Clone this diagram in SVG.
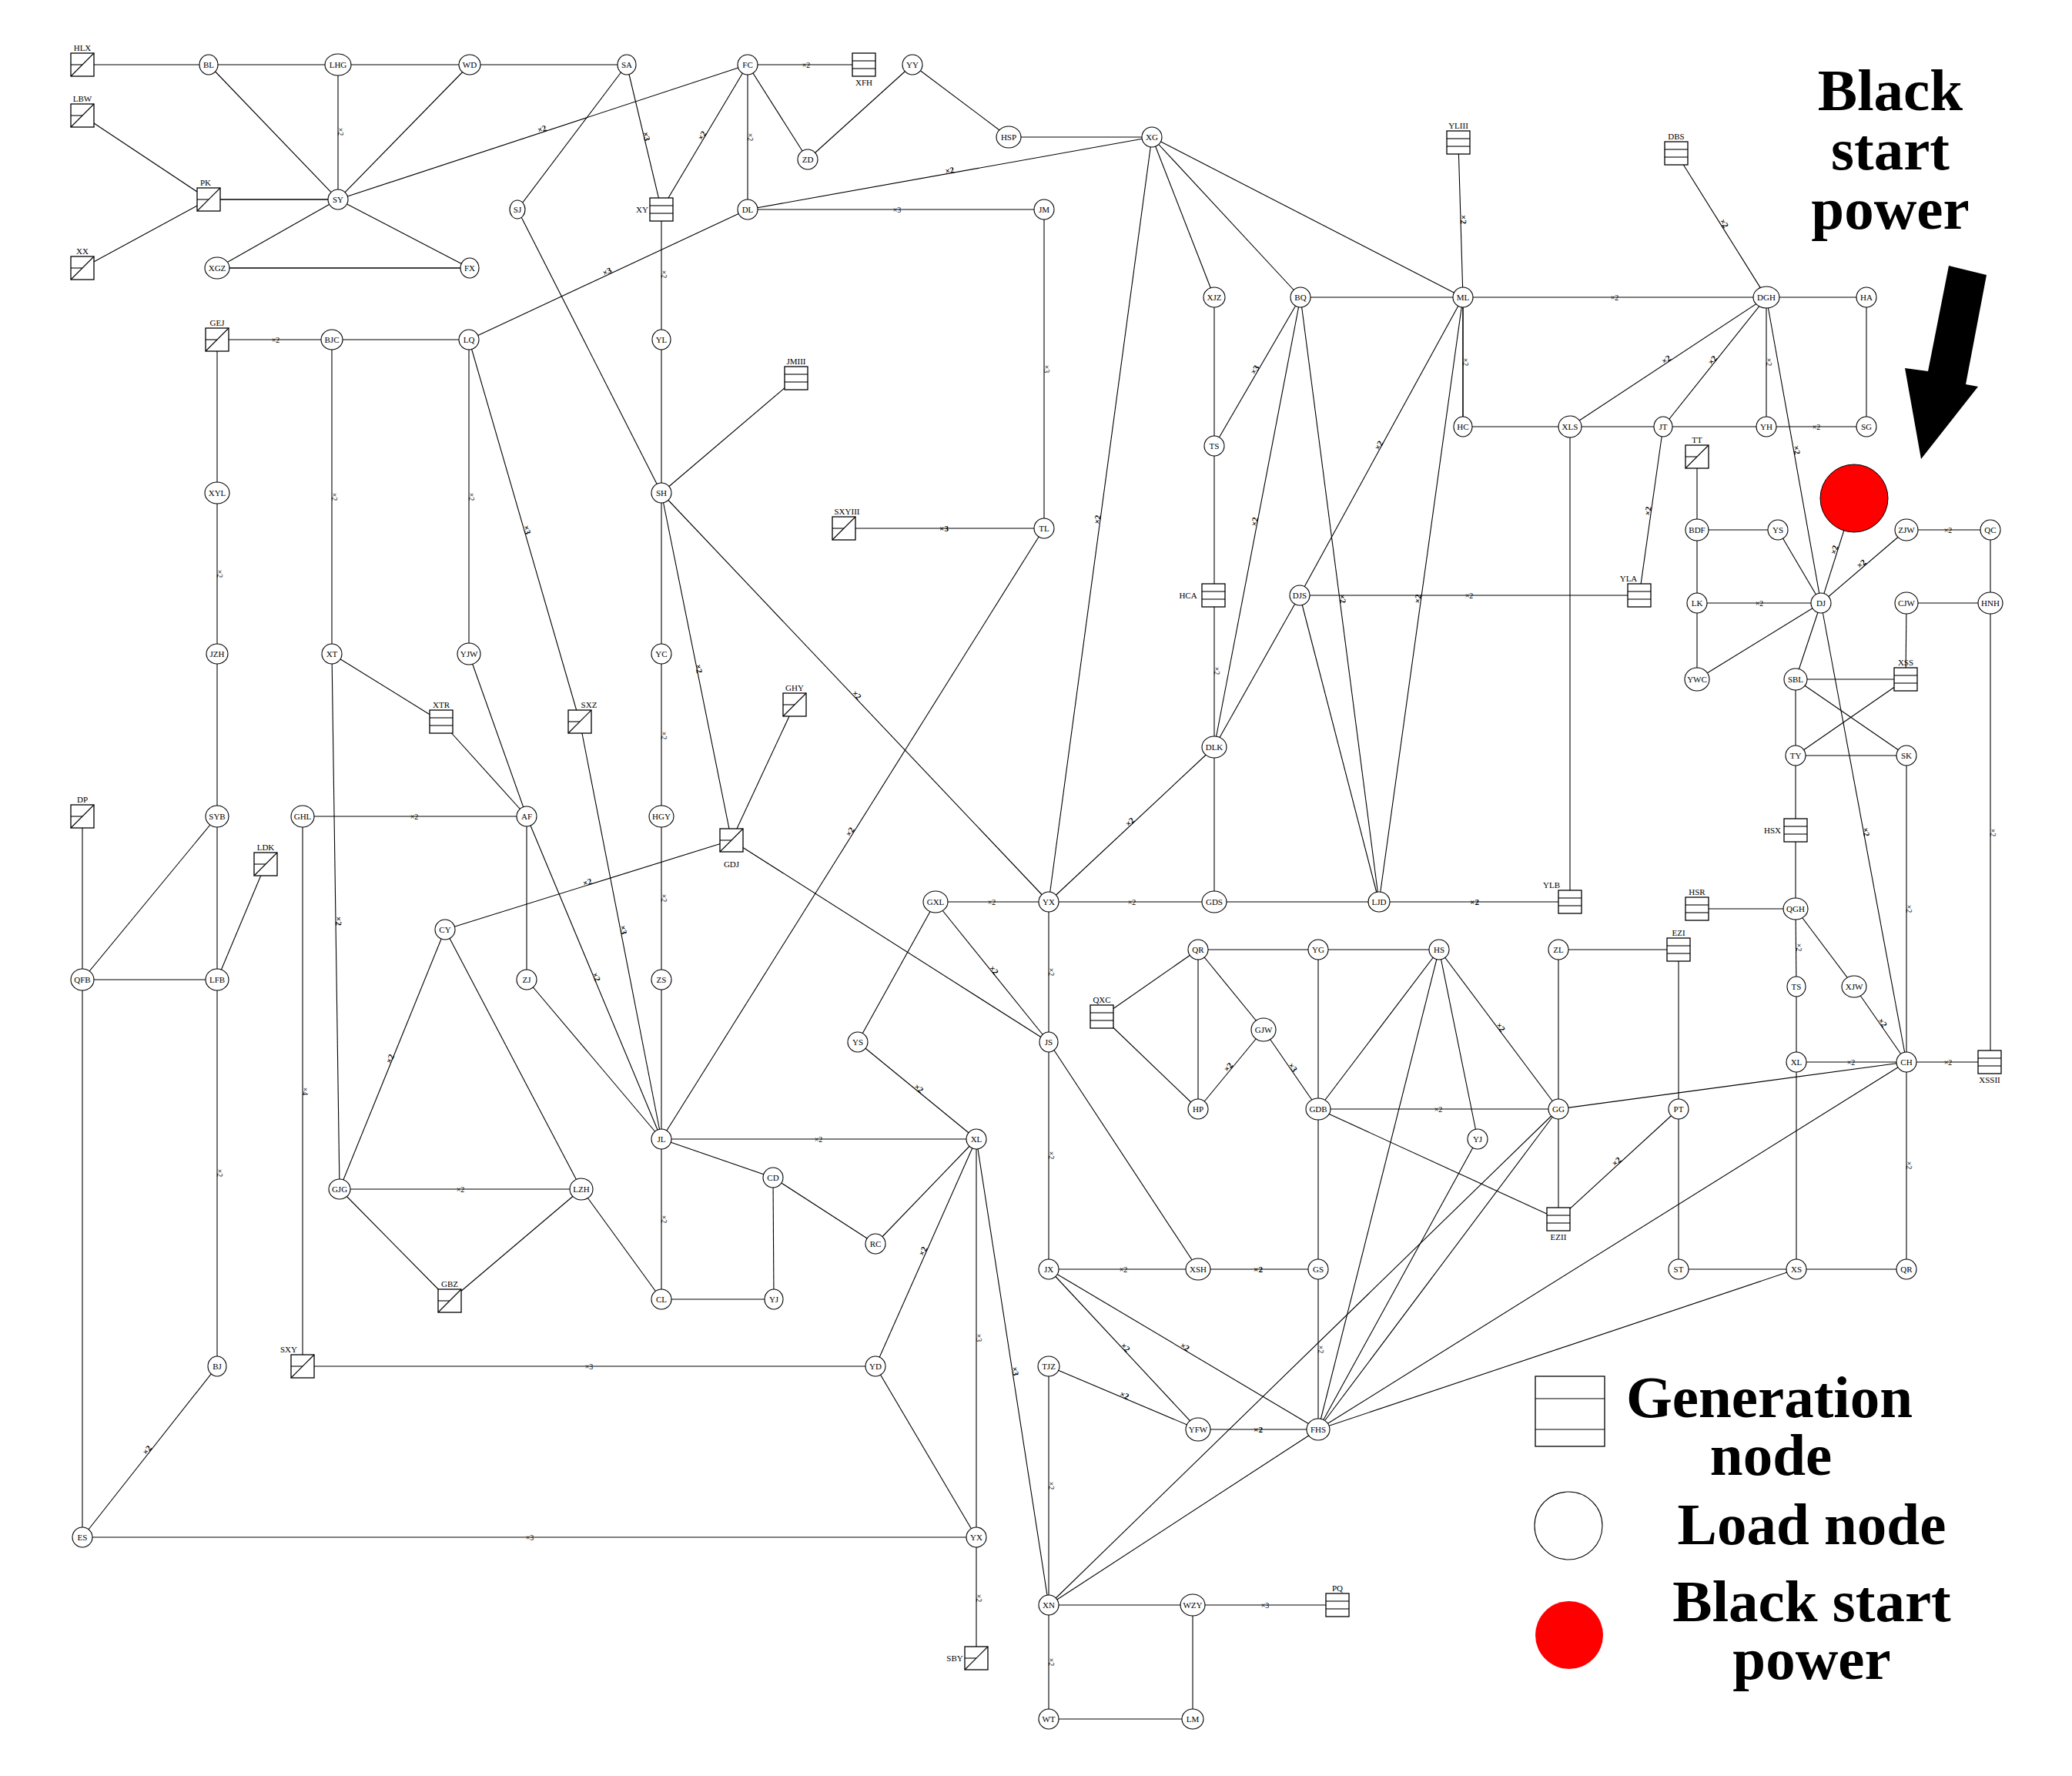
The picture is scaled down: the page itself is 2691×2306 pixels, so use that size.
<svg xmlns="http://www.w3.org/2000/svg" width="2691" height="2306" viewBox="0 0 2691 2306">
<style>
line{stroke:#000;stroke-width:1.1}
.n{fill:#fff;stroke:#000;stroke-width:1.1}
.g{fill:#fff;stroke:#000;stroke-width:1.3}
text{font-family:"Liberation Serif","Times New Roman",serif;fill:#000}
.t{font-size:11px;text-anchor:middle}
.l{font-size:10px;text-anchor:middle}
.lb{font-size:11px;text-anchor:middle;font-weight:bold}
.big{font-size:77px;font-weight:bold;text-anchor:middle}
</style>
<rect width="2691" height="2306" fill="#fff"/>
<g id="connectors">
<line x1="107" y1="84" x2="271" y2="84"/><line x1="271" y1="84" x2="439" y2="84"/><line x1="439" y1="84" x2="610" y2="84"/><line x1="610" y1="84" x2="814" y2="84"/>
<line x1="271" y1="84" x2="439" y2="259"/><line x1="439" y1="84" x2="439" y2="259"/><line x1="610" y1="84" x2="439" y2="259"/>
<line x1="107" y1="150" x2="271" y2="259"/><line x1="107" y1="348" x2="271" y2="259"/><line x1="271" y1="259" x2="439" y2="259" style="stroke-width:1.6"/>
<line x1="439" y1="259" x2="282" y2="348"/><line x1="439" y1="259" x2="610" y2="348"/><line x1="282" y1="348" x2="610" y2="348" style="stroke-width:1.6"/>
<line x1="439" y1="259" x2="971" y2="84"/><line x1="814" y1="84" x2="672" y2="272"/><line x1="814" y1="84" x2="859" y2="272"/><line x1="971" y1="84" x2="859" y2="272"/>
<line x1="971" y1="84" x2="1122" y2="84"/><line x1="971" y1="84" x2="1049" y2="207"/><line x1="971" y1="84" x2="971" y2="272"/>
<line x1="1049" y1="207" x2="1185" y2="84"/><line x1="1185" y1="84" x2="1310" y2="178"/><line x1="1310" y1="178" x2="1496" y2="178"/>
<line x1="971" y1="272" x2="1496" y2="178"/><line x1="971" y1="272" x2="1356" y2="272"/><line x1="971" y1="272" x2="609" y2="441"/>
<line x1="859" y1="272" x2="859" y2="441"/><line x1="672" y1="272" x2="859" y2="640"/><line x1="859" y1="441" x2="859" y2="640"/><line x1="859" y1="640" x2="1034" y2="491"/>
<line x1="282" y1="441" x2="431" y2="441"/><line x1="431" y1="441" x2="609" y2="441"/><line x1="282" y1="441" x2="282" y2="640"/><line x1="282" y1="640" x2="282" y2="849"/><line x1="282" y1="849" x2="282" y2="1060"/>
<line x1="431" y1="441" x2="431" y2="849"/><line x1="609" y1="441" x2="609" y2="849"/><line x1="609" y1="441" x2="753" y2="937"/>
<line x1="859" y1="640" x2="859" y2="849"/><line x1="859" y1="640" x2="950" y2="1091"/><line x1="859" y1="640" x2="1362" y2="1171"/>
<line x1="1096" y1="686" x2="1356" y2="686"/><line x1="1356" y1="272" x2="1356" y2="686"/><line x1="1356" y1="686" x2="859" y2="1479"/>
<line x1="431" y1="849" x2="573" y2="937"/><line x1="573" y1="937" x2="684" y2="1060"/><line x1="609" y1="849" x2="684" y2="1060"/><line x1="753" y1="937" x2="859" y2="1479"/>
<line x1="859" y1="849" x2="859" y2="1060"/><line x1="1032" y1="915" x2="950" y2="1091"/><line x1="950" y1="1091" x2="1362" y2="1353"/><line x1="950" y1="1091" x2="578" y2="1207"/>
<line x1="107" y1="1060" x2="107" y2="1272"/><line x1="282" y1="1060" x2="107" y2="1272"/><line x1="282" y1="1060" x2="282" y2="1272"/><line x1="345" y1="1122" x2="282" y2="1272"/><line x1="107" y1="1272" x2="282" y2="1272"/>
<line x1="393" y1="1060" x2="684" y2="1060"/><line x1="393" y1="1060" x2="393" y2="1774"/><line x1="431" y1="849" x2="441" y2="1544"/>
<line x1="684" y1="1060" x2="684" y2="1272"/><line x1="684" y1="1060" x2="859" y2="1479"/><line x1="859" y1="1060" x2="859" y2="1272"/><line x1="859" y1="1272" x2="859" y2="1479"/><line x1="684" y1="1272" x2="859" y2="1479"/>
<line x1="578" y1="1207" x2="441" y2="1544"/><line x1="578" y1="1207" x2="755" y2="1544"/><line x1="441" y1="1544" x2="755" y2="1544"/><line x1="441" y1="1544" x2="584" y2="1689"/><line x1="755" y1="1544" x2="584" y2="1689"/><line x1="755" y1="1544" x2="859" y2="1687"/>
<line x1="859" y1="1479" x2="859" y2="1687"/><line x1="859" y1="1479" x2="1268" y2="1479"/><line x1="859" y1="1479" x2="1004" y2="1529"/><line x1="1004" y1="1529" x2="1005" y2="1687"/><line x1="1004" y1="1529" x2="1137" y2="1615"/><line x1="859" y1="1687" x2="1005" y2="1687"/><line x1="1137" y1="1615" x2="1268" y2="1479"/>
<line x1="1114" y1="1353" x2="1268" y2="1479"/><line x1="1215" y1="1171" x2="1114" y2="1353"/><line x1="1215" y1="1171" x2="1362" y2="1353"/><line x1="1215" y1="1171" x2="1362" y2="1171"/>
<line x1="1268" y1="1479" x2="1137" y2="1774"/><line x1="1268" y1="1479" x2="1268" y2="1996"/><line x1="1268" y1="1479" x2="1362" y2="2084"/>
<line x1="393" y1="1774" x2="1137" y2="1774"/><line x1="1137" y1="1774" x2="1268" y2="1996"/><line x1="282" y1="1272" x2="282" y2="1774"/><line x1="282" y1="1774" x2="107" y2="1996"/><line x1="107" y1="1272" x2="107" y2="1996"/><line x1="107" y1="1996" x2="1268" y2="1996"/><line x1="1268" y1="1996" x2="1268" y2="2153"/>
<line x1="1496" y1="178" x2="1577" y2="386"/><line x1="1496" y1="178" x2="1689" y2="386"/><line x1="1496" y1="178" x2="1900" y2="386"/><line x1="1496" y1="178" x2="1362" y2="1171"/>
<line x1="1894" y1="185" x2="1900" y2="386"/><line x1="2177" y1="199" x2="2294" y2="386"/><line x1="1689" y1="386" x2="1900" y2="386"/><line x1="1900" y1="386" x2="2294" y2="386"/><line x1="2294" y1="386" x2="2424" y2="386"/><line x1="2424" y1="386" x2="2424" y2="554"/>
<line x1="2294" y1="386" x2="2039" y2="554"/><line x1="2294" y1="386" x2="2160" y2="554"/><line x1="2294" y1="386" x2="2294" y2="554"/><line x1="2294" y1="386" x2="2365" y2="783"/><line x1="2365" y1="783" x2="2476" y2="1379"/>
<line x1="1900" y1="386" x2="1900" y2="554" style="stroke-width:1.6"/><line x1="1900" y1="554" x2="2039" y2="554"/><line x1="2039" y1="554" x2="2160" y2="554"/><line x1="2160" y1="554" x2="2294" y2="554"/><line x1="2294" y1="554" x2="2424" y2="554"/>
<line x1="2039" y1="554" x2="2039" y2="1171"/><line x1="2160" y1="554" x2="2129" y2="773"/><line x1="1900" y1="386" x2="1688" y2="773"/><line x1="1900" y1="386" x2="1791" y2="1171"/>
<line x1="1689" y1="386" x2="1577" y2="579"/><line x1="1689" y1="386" x2="1577" y2="970"/><line x1="1689" y1="386" x2="1791" y2="1171"/>
<line x1="1577" y1="386" x2="1577" y2="579"/><line x1="1577" y1="579" x2="1577" y2="773"/><line x1="1577" y1="773" x2="1577" y2="970"/><line x1="1688" y1="773" x2="2129" y2="773"/><line x1="1688" y1="773" x2="1577" y2="970"/><line x1="1688" y1="773" x2="1791" y2="1171"/>
<line x1="1577" y1="970" x2="1362" y2="1171"/><line x1="1577" y1="970" x2="1577" y2="1171"/><line x1="1362" y1="1171" x2="1577" y2="1171"/><line x1="1577" y1="1171" x2="1791" y2="1171"/><line x1="1791" y1="1171" x2="2039" y2="1171"/>
<line x1="2204" y1="593" x2="2204" y2="688"/><line x1="2204" y1="688" x2="2309" y2="688"/><line x1="2204" y1="688" x2="2204" y2="783"/><line x1="2204" y1="783" x2="2365" y2="783"/><line x1="2204" y1="783" x2="2204" y2="882"/><line x1="2309" y1="688" x2="2365" y2="783"/>
<line x1="2365" y1="783" x2="2408" y2="647"/><line x1="2365" y1="783" x2="2476" y2="688"/><line x1="2476" y1="688" x2="2585" y2="688"/><line x1="2585" y1="688" x2="2585" y2="783"/><line x1="2476" y1="783" x2="2585" y2="783"/><line x1="2476" y1="783" x2="2475" y2="882"/>
<line x1="2365" y1="783" x2="2204" y2="882"/><line x1="2365" y1="783" x2="2332" y2="882"/><line x1="2332" y1="882" x2="2475" y2="882"/><line x1="2332" y1="882" x2="2476" y2="981"/><line x1="2332" y1="882" x2="2332" y2="981"/><line x1="2475" y1="882" x2="2332" y2="981"/><line x1="2332" y1="981" x2="2476" y2="981"/>
<line x1="2332" y1="981" x2="2332" y2="1078"/><line x1="2332" y1="1078" x2="2332" y2="1180"/><line x1="2204" y1="1180" x2="2332" y2="1180"/><line x1="2476" y1="981" x2="2476" y2="1379"/><line x1="2585" y1="783" x2="2585" y2="1379"/>
<line x1="2332" y1="1180" x2="2333" y2="1281"/><line x1="2332" y1="1180" x2="2408" y2="1281"/><line x1="2408" y1="1281" x2="2476" y2="1379"/><line x1="2333" y1="1281" x2="2333" y2="1379"/><line x1="2333" y1="1379" x2="2476" y2="1379"/><line x1="2476" y1="1379" x2="2584" y2="1379"/>
<line x1="2333" y1="1379" x2="2333" y2="1648"/><line x1="2476" y1="1379" x2="2476" y2="1648"/><line x1="2333" y1="1648" x2="2476" y2="1648"/><line x1="2180" y1="1648" x2="2333" y2="1648"/><line x1="2180" y1="1440" x2="2180" y2="1648"/><line x1="2180" y1="1233" x2="2180" y2="1440"/>
<line x1="2024" y1="1233" x2="2180" y2="1233"/><line x1="2024" y1="1233" x2="2024" y2="1440"/><line x1="2024" y1="1440" x2="2024" y2="1583"/><line x1="2180" y1="1440" x2="2024" y2="1583"/><line x1="2024" y1="1440" x2="2476" y2="1379"/><line x1="1712" y1="1440" x2="2024" y2="1583"/><line x1="1712" y1="1440" x2="2024" y2="1440"/>
<line x1="1869" y1="1233" x2="2024" y2="1440"/><line x1="1869" y1="1233" x2="1919" y2="1479"/><line x1="1869" y1="1233" x2="1712" y2="1440"/><line x1="1869" y1="1233" x2="1712" y2="1856"/><line x1="1712" y1="1233" x2="1712" y2="1440"/><line x1="1556" y1="1233" x2="1712" y2="1233"/><line x1="1712" y1="1233" x2="1869" y2="1233"/>
<line x1="1556" y1="1233" x2="1556" y2="1440"/><line x1="1556" y1="1233" x2="1641" y2="1337"/><line x1="1556" y1="1233" x2="1431" y2="1320"/><line x1="1431" y1="1320" x2="1556" y2="1440"/><line x1="1556" y1="1440" x2="1641" y2="1337"/><line x1="1641" y1="1337" x2="1712" y2="1440"/>
<line x1="1712" y1="1440" x2="1712" y2="1648"/><line x1="1712" y1="1648" x2="1712" y2="1856"/><line x1="1919" y1="1479" x2="1712" y2="1856"/><line x1="2024" y1="1440" x2="1712" y2="1856"/><line x1="2024" y1="1440" x2="1362" y2="2084"/><line x1="2476" y1="1379" x2="1712" y2="1856"/><line x1="2333" y1="1648" x2="1712" y2="1856"/><line x1="1712" y1="1856" x2="1362" y2="2084"/>
<line x1="1362" y1="1171" x2="1362" y2="1353"/><line x1="1362" y1="1353" x2="1362" y2="1648"/><line x1="1362" y1="1353" x2="1556" y2="1648"/><line x1="1362" y1="1648" x2="1556" y2="1648"/><line x1="1556" y1="1648" x2="1712" y2="1648"/>
<line x1="1362" y1="1648" x2="1556" y2="1856"/><line x1="1362" y1="1648" x2="1712" y2="1856"/><line x1="1362" y1="1774" x2="1556" y2="1856"/><line x1="1556" y1="1856" x2="1712" y2="1856"/><line x1="1362" y1="1774" x2="1362" y2="2084"/>
<line x1="1362" y1="2084" x2="1549" y2="2084"/><line x1="1549" y1="2084" x2="1737" y2="2084"/><line x1="1549" y1="2084" x2="1549" y2="2232"/><line x1="1362" y1="2084" x2="1362" y2="2232"/><line x1="1362" y1="2232" x2="1549" y2="2232"/>
</g>
<g id="edge-labels">
<text class="l" x="439" y="171" transform="rotate(90 439 171)">×2</text>
<text class="lb" x="705" y="171" transform="rotate(-18 705 171)">×2</text>
<text class="lb" x="836" y="178" transform="rotate(76 836 178)">×3</text>
<text class="lb" x="915" y="178" transform="rotate(-59 915 178)">×2</text>
<text class="l" x="1047" y="88">×2</text>
<text class="l" x="971" y="178" transform="rotate(90 971 178)">×2</text>
<text class="lb" x="1234" y="225" transform="rotate(-10 1234 225)">×2</text>
<text class="l" x="1165" y="276">×3</text>
<text class="lb" x="790" y="356" transform="rotate(-25 790 356)">×3</text>
<text class="l" x="859" y="356" transform="rotate(90 859 356)">×2</text>
<text class="l" x="358" y="445">×2</text>
<text class="l" x="431" y="645" transform="rotate(90 431 645)">×2</text>
<text class="l" x="609" y="645" transform="rotate(90 609 645)">×2</text>
<text class="lb" x="681" y="689" transform="rotate(74 681 689)">×3</text>
<text class="l" x="282" y="745" transform="rotate(90 282 745)">×2</text>
<text class="lb" x="904" y="869" transform="rotate(79 904 869)">×2</text>
<text class="lb" x="1110" y="905" transform="rotate(46 1110 905)">×2</text>
<text class="lb" x="1226" y="690">×3</text>
<text class="l" x="1356" y="479" transform="rotate(90 1356 479)">×3</text>
<text class="lb" x="1107" y="1082" transform="rotate(-58 1107 1082)">×2</text>
<text class="l" x="859" y="955" transform="rotate(90 859 955)">×2</text>
<text class="l" x="538" y="1064">×2</text>
<text class="lb" x="764" y="1149" transform="rotate(-17 764 1149)">×2</text>
<text class="l" x="393" y="1417" transform="rotate(90 393 1417)">×4</text>
<text class="lb" x="436" y="1196" transform="rotate(89 436 1196)">×2</text>
<text class="lb" x="771" y="1270" transform="rotate(67 771 1270)">×2</text>
<text class="lb" x="806" y="1208" transform="rotate(79 806 1208)">×3</text>
<text class="l" x="859" y="1166" transform="rotate(90 859 1166)">×2</text>
<text class="lb" x="510" y="1376" transform="rotate(-68 510 1376)">×2</text>
<text class="l" x="598" y="1548">×2</text>
<text class="l" x="859" y="1583" transform="rotate(90 859 1583)">×2</text>
<text class="l" x="1063" y="1483">×2</text>
<text class="lb" x="1191" y="1416" transform="rotate(39 1191 1416)">×2</text>
<text class="lb" x="1288" y="1262" transform="rotate(51 1288 1262)">×2</text>
<text class="l" x="1288" y="1175">×2</text>
<text class="lb" x="1202" y="1626" transform="rotate(-66 1202 1626)">×2</text>
<text class="l" x="1268" y="1737" transform="rotate(90 1268 1737)">×3</text>
<text class="lb" x="1315" y="1781" transform="rotate(81 1315 1781)">×3</text>
<text class="l" x="765" y="1778">×3</text>
<text class="l" x="282" y="1523" transform="rotate(90 282 1523)">×2</text>
<text class="lb" x="194" y="1885" transform="rotate(-52 194 1885)">×2</text>
<text class="l" x="688" y="2000">×3</text>
<text class="l" x="1268" y="2075" transform="rotate(90 1268 2075)">×2</text>
<text class="lb" x="1429" y="675" transform="rotate(-82 1429 675)">×2</text>
<text class="lb" x="1897" y="285" transform="rotate(89 1897 285)">×2</text>
<text class="lb" x="2236" y="292" transform="rotate(58 2236 292)">×2</text>
<text class="l" x="2097" y="390">×2</text>
<text class="lb" x="2166" y="470" transform="rotate(-33 2166 470)">×2</text>
<text class="lb" x="2227" y="470" transform="rotate(-51 2227 470)">×2</text>
<text class="l" x="2294" y="470" transform="rotate(90 2294 470)">×2</text>
<text class="lb" x="2330" y="585" transform="rotate(80 2330 585)">×2</text>
<text class="lb" x="2420" y="1081" transform="rotate(80 2420 1081)">×2</text>
<text class="l" x="1900" y="470" transform="rotate(90 1900 470)">×2</text>
<text class="l" x="2359" y="558">×2</text>
<text class="lb" x="2144" y="664" transform="rotate(-82 2144 664)">×2</text>
<text class="lb" x="1794" y="580" transform="rotate(-61 1794 580)">×2</text>
<text class="lb" x="1845" y="778" transform="rotate(-82 1845 778)">×2</text>
<text class="lb" x="1633" y="482" transform="rotate(-60 1633 482)">×3</text>
<text class="lb" x="1633" y="678" transform="rotate(-79 1633 678)">×2</text>
<text class="lb" x="1740" y="778" transform="rotate(83 1740 778)">×2</text>
<text class="l" x="1577" y="871" transform="rotate(90 1577 871)">×2</text>
<text class="l" x="1908" y="777">×2</text>
<text class="lb" x="1470" y="1070" transform="rotate(-43 1470 1070)">×2</text>
<text class="l" x="1470" y="1175">×2</text>
<text class="lb" x="1915" y="1175">×2</text>
<text class="l" x="2285" y="787">×2</text>
<text class="lb" x="2386" y="715" transform="rotate(-72 2386 715)">×2</text>
<text class="lb" x="2420" y="735" transform="rotate(-41 2420 735)">×2</text>
<text class="l" x="2530" y="692">×2</text>
<text class="l" x="2476" y="1180" transform="rotate(90 2476 1180)">×2</text>
<text class="l" x="2585" y="1081" transform="rotate(90 2585 1081)">×2</text>
<text class="l" x="2333" y="1230" transform="rotate(90 2333 1230)">×2</text>
<text class="lb" x="2442" y="1330" transform="rotate(55 2442 1330)">×2</text>
<text class="l" x="2404" y="1383">×2</text>
<text class="l" x="2530" y="1383">×2</text>
<text class="l" x="2476" y="1513" transform="rotate(90 2476 1513)">×2</text>
<text class="lb" x="2102" y="1511" transform="rotate(-42 2102 1511)">×2</text>
<text class="l" x="1868" y="1444">×2</text>
<text class="lb" x="1946" y="1336" transform="rotate(53 1946 1336)">×2</text>
<text class="lb" x="1598" y="1388" transform="rotate(-50 1598 1388)">×2</text>
<text class="lb" x="1676" y="1388" transform="rotate(55 1676 1388)">×3</text>
<text class="l" x="1712" y="1752" transform="rotate(90 1712 1752)">×2</text>
<text class="l" x="1362" y="1262" transform="rotate(90 1362 1262)">×2</text>
<text class="l" x="1362" y="1500" transform="rotate(90 1362 1500)">×2</text>
<text class="l" x="1459" y="1652">×2</text>
<text class="lb" x="1634" y="1652">×2</text>
<text class="lb" x="1459" y="1752" transform="rotate(47 1459 1752)">×2</text>
<text class="lb" x="1537" y="1752" transform="rotate(31 1537 1752)">×2</text>
<text class="lb" x="1459" y="1815" transform="rotate(23 1459 1815)">×2</text>
<text class="lb" x="1634" y="1860">×2</text>
<text class="l" x="1362" y="1929" transform="rotate(90 1362 1929)">×2</text>
<text class="l" x="1643" y="2088">×3</text>
<text class="l" x="1362" y="2158" transform="rotate(90 1362 2158)">×2</text>
</g>
<defs>
<g id="sg"><rect class="g" x="-15" y="-15" width="30" height="30"/><line x1="-15" y1="15" x2="15" y2="-15"/><line x1="-15" y1="0" x2="0" y2="0"/></g>
<g id="rg"><rect class="g" x="-15" y="-15" width="30" height="30"/><line x1="-15" y1="-5" x2="15" y2="-5"/><line x1="-15" y1="5" x2="15" y2="5"/></g>
</defs>
<g id="n-HLX"><use href="#sg" x="107" y="84"/><text class="t" x="107" y="66">HLX</text></g>
<g id="n-LBW"><use href="#sg" x="107" y="150"/><text class="t" x="107" y="132">LBW</text></g>
<g id="n-PK"><use href="#sg" x="271" y="259"/><text class="t" x="267" y="241">PK</text></g>
<g id="n-XX"><use href="#sg" x="107" y="348"/><text class="t" x="107" y="330">XX</text></g>
<g id="n-GEJ"><use href="#sg" x="282" y="441"/><text class="t" x="282" y="423">GEJ</text></g>
<g id="n-SXYIII"><use href="#sg" x="1096" y="686"/><text class="t" x="1100" y="668">SXYIII</text></g>
<g id="n-SXZ"><use href="#sg" x="753" y="937"/><text class="t" x="765" y="919">SXZ</text></g>
<g id="n-GHY"><use href="#sg" x="1032" y="915"/><text class="t" x="1032" y="897">GHY</text></g>
<g id="n-DP"><use href="#sg" x="107" y="1060"/><text class="t" x="107" y="1042">DP</text></g>
<g id="n-LDK"><use href="#sg" x="345" y="1122"/><text class="t" x="345" y="1104">LDK</text></g>
<g id="n-GDJ"><use href="#sg" x="950" y="1091"/><text class="t" x="950" y="1126">GDJ</text></g>
<g id="n-GBZ"><use href="#sg" x="584" y="1689"/><text class="t" x="584" y="1671">GBZ</text></g>
<g id="n-SXY"><use href="#sg" x="393" y="1774"/><text class="t" x="375" y="1756">SXY</text></g>
<g id="n-SBY"><use href="#sg" x="1268" y="2153"/><text class="t" x="1240" y="2157">SBY</text></g>
<g id="n-TT"><use href="#sg" x="2204" y="593"/><text class="t" x="2204" y="575">TT</text></g>
<g id="n-XFH"><use href="#rg" x="1122" y="84"/><text class="t" x="1122" y="111">XFH</text></g>
<g id="n-XY"><use href="#rg" x="859" y="272"/><text class="t" x="834" y="276">XY</text></g>
<g id="n-JMIII"><use href="#rg" x="1034" y="491"/><text class="t" x="1034" y="473">JMIII</text></g>
<g id="n-XTR"><use href="#rg" x="573" y="937"/><text class="t" x="573" y="919">XTR</text></g>
<g id="n-YLIII"><use href="#rg" x="1894" y="185"/><text class="t" x="1894" y="167">YLIII</text></g>
<g id="n-DBS"><use href="#rg" x="2177" y="199"/><text class="t" x="2177" y="181">DBS</text></g>
<g id="n-HCA"><use href="#rg" x="1576" y="773"/><text class="t" x="1543" y="777">HCA</text></g>
<g id="n-YLA"><use href="#rg" x="2129" y="773"/><text class="t" x="2115" y="755">YLA</text></g>
<g id="n-XSS"><use href="#rg" x="2475" y="882"/><text class="t" x="2475" y="864">XSS</text></g>
<g id="n-HSX"><use href="#rg" x="2332" y="1078"/><text class="t" x="2302" y="1082">HSX</text></g>
<g id="n-YLB"><use href="#rg" x="2039" y="1171"/><text class="t" x="2015" y="1153">YLB</text></g>
<g id="n-HSR"><use href="#rg" x="2204" y="1180"/><text class="t" x="2204" y="1162">HSR</text></g>
<g id="n-EZI"><use href="#rg" x="2180" y="1233"/><text class="t" x="2180" y="1215">EZI</text></g>
<g id="n-QXC"><use href="#rg" x="1431" y="1320"/><text class="t" x="1431" y="1302">QXC</text></g>
<g id="n-XSSII"><use href="#rg" x="2584" y="1379"/><text class="t" x="2584" y="1406">XSSII</text></g>
<g id="n-EZII"><use href="#rg" x="2024" y="1583"/><text class="t" x="2024" y="1610">EZII</text></g>
<g id="n-PQ"><use href="#rg" x="1737" y="2084"/><text class="t" x="1737" y="2066">PQ</text></g>
<g id="n-BL"><ellipse class="n" cx="271" cy="84" rx="12" ry="13"/><text class="t" x="271" y="88">BL</text></g>
<g id="n-LHG"><ellipse class="n" cx="439" cy="84" rx="17" ry="14"/><text class="t" x="439" y="88">LHG</text></g>
<g id="n-WD"><ellipse class="n" cx="610" cy="84" rx="14" ry="13"/><text class="t" x="610" y="88">WD</text></g>
<g id="n-SA"><ellipse class="n" cx="814" cy="84" rx="12" ry="13"/><text class="t" x="814" y="88">SA</text></g>
<g id="n-FC"><ellipse class="n" cx="971" cy="84" rx="13" ry="13"/><text class="t" x="971" y="88">FC</text></g>
<g id="n-YY"><ellipse class="n" cx="1185" cy="84" rx="13" ry="13"/><text class="t" x="1185" y="88">YY</text></g>
<g id="n-SY"><ellipse class="n" cx="439" cy="259" rx="13" ry="13"/><text class="t" x="439" y="263">SY</text></g>
<g id="n-XGZ"><ellipse class="n" cx="282" cy="348" rx="16" ry="14"/><text class="t" x="282" y="352">XGZ</text></g>
<g id="n-FX"><ellipse class="n" cx="610" cy="348" rx="12" ry="13"/><text class="t" x="610" y="352">FX</text></g>
<g id="n-SJ"><ellipse class="n" cx="672" cy="272" rx="10" ry="12"/><text class="t" x="672" y="276">SJ</text></g>
<g id="n-DL"><ellipse class="n" cx="971" cy="272" rx="13" ry="13"/><text class="t" x="971" y="276">DL</text></g>
<g id="n-ZD"><ellipse class="n" cx="1049" cy="207" rx="13" ry="13"/><text class="t" x="1049" y="211">ZD</text></g>
<g id="n-HSP"><ellipse class="n" cx="1310" cy="178" rx="16" ry="14"/><text class="t" x="1310" y="182">HSP</text></g>
<g id="n-BJC"><ellipse class="n" cx="431" cy="441" rx="14" ry="13"/><text class="t" x="431" y="445">BJC</text></g>
<g id="n-LQ"><ellipse class="n" cx="609" cy="441" rx="13" ry="13"/><text class="t" x="609" y="445">LQ</text></g>
<g id="n-YL"><ellipse class="n" cx="859" cy="441" rx="12" ry="13"/><text class="t" x="859" y="445">YL</text></g>
<g id="n-XYL"><ellipse class="n" cx="282" cy="640" rx="16" ry="14"/><text class="t" x="282" y="644">XYL</text></g>
<g id="n-SH"><ellipse class="n" cx="859" cy="640" rx="13" ry="13"/><text class="t" x="859" y="644">SH</text></g>
<g id="n-JZH"><ellipse class="n" cx="282" cy="849" rx="14" ry="13"/><text class="t" x="282" y="853">JZH</text></g>
<g id="n-XT"><ellipse class="n" cx="431" cy="849" rx="13" ry="13"/><text class="t" x="431" y="853">XT</text></g>
<g id="n-YJW"><ellipse class="n" cx="609" cy="849" rx="15" ry="14"/><text class="t" x="609" y="853">YJW</text></g>
<g id="n-YC"><ellipse class="n" cx="859" cy="849" rx="13" ry="13"/><text class="t" x="859" y="853">YC</text></g>
<g id="n-SYB"><ellipse class="n" cx="282" cy="1060" rx="15" ry="14"/><text class="t" x="282" y="1064">SYB</text></g>
<g id="n-GHL"><ellipse class="n" cx="393" cy="1060" rx="15" ry="14"/><text class="t" x="393" y="1064">GHL</text></g>
<g id="n-AF"><ellipse class="n" cx="684" cy="1060" rx="13" ry="13"/><text class="t" x="684" y="1064">AF</text></g>
<g id="n-HGY"><ellipse class="n" cx="859" cy="1060" rx="16" ry="14"/><text class="t" x="859" y="1064">HGY</text></g>
<g id="n-QFB"><ellipse class="n" cx="107" cy="1272" rx="15" ry="14"/><text class="t" x="107" y="1276">QFB</text></g>
<g id="n-LFB"><ellipse class="n" cx="282" cy="1272" rx="15" ry="14"/><text class="t" x="282" y="1276">LFB</text></g>
<g id="n-CY"><ellipse class="n" cx="578" cy="1207" rx="13" ry="13"/><text class="t" x="578" y="1211">CY</text></g>
<g id="n-ZJ"><ellipse class="n" cx="684" cy="1272" rx="13" ry="13"/><text class="t" x="684" y="1276">ZJ</text></g>
<g id="n-ZS"><ellipse class="n" cx="859" cy="1272" rx="13" ry="13"/><text class="t" x="859" y="1276">ZS</text></g>
<g id="n-GXL"><ellipse class="n" cx="1215" cy="1171" rx="16" ry="14"/><text class="t" x="1215" y="1175">GXL</text></g>
<g id="n-YS-1"><ellipse class="n" cx="1114" cy="1353" rx="13" ry="13"/><text class="t" x="1114" y="1357">YS</text></g>
<g id="n-JL"><ellipse class="n" cx="859" cy="1479" rx="13" ry="13"/><text class="t" x="859" y="1483">JL</text></g>
<g id="n-XL-1"><ellipse class="n" cx="1268" cy="1479" rx="13" ry="13"/><text class="t" x="1268" y="1483">XL</text></g>
<g id="n-CD"><ellipse class="n" cx="1004" cy="1529" rx="13" ry="13"/><text class="t" x="1004" y="1533">CD</text></g>
<g id="n-GJG"><ellipse class="n" cx="441" cy="1544" rx="14" ry="13"/><text class="t" x="441" y="1548">GJG</text></g>
<g id="n-LZH"><ellipse class="n" cx="755" cy="1544" rx="15" ry="14"/><text class="t" x="755" y="1548">LZH</text></g>
<g id="n-RC"><ellipse class="n" cx="1137" cy="1615" rx="13" ry="13"/><text class="t" x="1137" y="1619">RC</text></g>
<g id="n-CL"><ellipse class="n" cx="859" cy="1687" rx="13" ry="13"/><text class="t" x="859" y="1691">CL</text></g>
<g id="n-YJ-1"><ellipse class="n" cx="1005" cy="1687" rx="12" ry="13"/><text class="t" x="1005" y="1691">YJ</text></g>
<g id="n-BJ"><ellipse class="n" cx="282" cy="1774" rx="12" ry="13"/><text class="t" x="282" y="1778">BJ</text></g>
<g id="n-YD"><ellipse class="n" cx="1137" cy="1774" rx="13" ry="13"/><text class="t" x="1137" y="1778">YD</text></g>
<g id="n-ES"><ellipse class="n" cx="107" cy="1996" rx="13" ry="13"/><text class="t" x="107" y="2000">ES</text></g>
<g id="n-YX-2"><ellipse class="n" cx="1268" cy="1996" rx="13" ry="13"/><text class="t" x="1268" y="2000">YX</text></g>
<g id="n-XG"><ellipse class="n" cx="1496" cy="178" rx="13" ry="13"/><text class="t" x="1496" y="182">XG</text></g>
<g id="n-JM"><ellipse class="n" cx="1356" cy="272" rx="13" ry="13"/><text class="t" x="1356" y="276">JM</text></g>
<g id="n-XJZ"><ellipse class="n" cx="1577" cy="386" rx="14" ry="13"/><text class="t" x="1577" y="390">XJZ</text></g>
<g id="n-BQ"><ellipse class="n" cx="1689" cy="386" rx="13" ry="13"/><text class="t" x="1689" y="390">BQ</text></g>
<g id="n-ML"><ellipse class="n" cx="1900" cy="386" rx="13" ry="13"/><text class="t" x="1900" y="390">ML</text></g>
<g id="n-DGH"><ellipse class="n" cx="2294" cy="386" rx="17" ry="14"/><text class="t" x="2294" y="390">DGH</text></g>
<g id="n-HA"><ellipse class="n" cx="2424" cy="386" rx="13" ry="13"/><text class="t" x="2424" y="390">HA</text></g>
<g id="n-HC"><ellipse class="n" cx="1900" cy="554" rx="12" ry="13"/><text class="t" x="1900" y="558">HC</text></g>
<g id="n-XLS"><ellipse class="n" cx="2039" cy="554" rx="15" ry="14"/><text class="t" x="2039" y="558">XLS</text></g>
<g id="n-JT"><ellipse class="n" cx="2160" cy="554" rx="12" ry="13"/><text class="t" x="2160" y="558">JT</text></g>
<g id="n-YH"><ellipse class="n" cx="2294" cy="554" rx="13" ry="13"/><text class="t" x="2294" y="558">YH</text></g>
<g id="n-SG"><ellipse class="n" cx="2424" cy="554" rx="13" ry="13"/><text class="t" x="2424" y="558">SG</text></g>
<g id="n-TS-1"><ellipse class="n" cx="1577" cy="579" rx="13" ry="13"/><text class="t" x="1577" y="583">TS</text></g>
<g id="n-TL"><ellipse class="n" cx="1356" cy="686" rx="13" ry="13"/><text class="t" x="1356" y="690">TL</text></g>
<g id="n-BDF"><ellipse class="n" cx="2204" cy="688" rx="15" ry="14"/><text class="t" x="2204" y="692">BDF</text></g>
<g id="n-YS-2"><ellipse class="n" cx="2309" cy="688" rx="13" ry="13"/><text class="t" x="2309" y="692">YS</text></g>
<g id="n-ZJW"><ellipse class="n" cx="2476" cy="688" rx="15" ry="14"/><text class="t" x="2476" y="692">ZJW</text></g>
<g id="n-QC"><ellipse class="n" cx="2585" cy="688" rx="13" ry="13"/><text class="t" x="2585" y="692">QC</text></g>
<g id="n-DJS"><ellipse class="n" cx="1688" cy="773" rx="13" ry="13"/><text class="t" x="1688" y="777">DJS</text></g>
<g id="n-LK"><ellipse class="n" cx="2204" cy="783" rx="13" ry="13"/><text class="t" x="2204" y="787">LK</text></g>
<g id="n-DJ"><ellipse class="n" cx="2365" cy="783" rx="13" ry="13"/><text class="t" x="2365" y="787">DJ</text></g>
<g id="n-CJW"><ellipse class="n" cx="2476" cy="783" rx="15" ry="14"/><text class="t" x="2476" y="787">CJW</text></g>
<g id="n-HNH"><ellipse class="n" cx="2585" cy="783" rx="16" ry="14"/><text class="t" x="2585" y="787">HNH</text></g>
<g id="n-YWC"><ellipse class="n" cx="2204" cy="882" rx="16" ry="15"/><text class="t" x="2204" y="886">YWC</text></g>
<g id="n-SBL"><ellipse class="n" cx="2332" cy="882" rx="15" ry="14"/><text class="t" x="2332" y="886">SBL</text></g>
<g id="n-DLK"><ellipse class="n" cx="1577" cy="970" rx="16" ry="14"/><text class="t" x="1577" y="974">DLK</text></g>
<g id="n-TY"><ellipse class="n" cx="2332" cy="981" rx="13" ry="13"/><text class="t" x="2332" y="985">TY</text></g>
<g id="n-SK"><ellipse class="n" cx="2476" cy="981" rx="13" ry="13"/><text class="t" x="2476" y="985">SK</text></g>
<g id="n-YX-1"><ellipse class="n" cx="1362" cy="1171" rx="13" ry="13"/><text class="t" x="1362" y="1175">YX</text></g>
<g id="n-GDS"><ellipse class="n" cx="1577" cy="1171" rx="16" ry="14"/><text class="t" x="1577" y="1175">GDS</text></g>
<g id="n-LJD"><ellipse class="n" cx="1791" cy="1171" rx="14" ry="13"/><text class="t" x="1791" y="1175">LJD</text></g>
<g id="n-QGH"><ellipse class="n" cx="2332" cy="1180" rx="16" ry="14"/><text class="t" x="2332" y="1184">QGH</text></g>
<g id="n-QR-1"><ellipse class="n" cx="1556" cy="1233" rx="13" ry="13"/><text class="t" x="1556" y="1237">QR</text></g>
<g id="n-YG"><ellipse class="n" cx="1712" cy="1233" rx="13" ry="13"/><text class="t" x="1712" y="1237">YG</text></g>
<g id="n-HS"><ellipse class="n" cx="1869" cy="1233" rx="13" ry="13"/><text class="t" x="1869" y="1237">HS</text></g>
<g id="n-ZL"><ellipse class="n" cx="2024" cy="1233" rx="13" ry="13"/><text class="t" x="2024" y="1237">ZL</text></g>
<g id="n-TS-2"><ellipse class="n" cx="2333" cy="1281" rx="12" ry="13"/><text class="t" x="2333" y="1285">TS</text></g>
<g id="n-XJW"><ellipse class="n" cx="2408" cy="1281" rx="16" ry="14"/><text class="t" x="2408" y="1285">XJW</text></g>
<g id="n-JS"><ellipse class="n" cx="1362" cy="1353" rx="12" ry="13"/><text class="t" x="1362" y="1357">JS</text></g>
<g id="n-GJW"><ellipse class="n" cx="1641" cy="1337" rx="16" ry="15"/><text class="t" x="1641" y="1341">GJW</text></g>
<g id="n-XL-2"><ellipse class="n" cx="2333" cy="1379" rx="13" ry="13"/><text class="t" x="2333" y="1383">XL</text></g>
<g id="n-CH"><ellipse class="n" cx="2476" cy="1379" rx="13" ry="13"/><text class="t" x="2476" y="1383">CH</text></g>
<g id="n-HP"><ellipse class="n" cx="1556" cy="1440" rx="13" ry="13"/><text class="t" x="1556" y="1444">HP</text></g>
<g id="n-GDB"><ellipse class="n" cx="1712" cy="1440" rx="16" ry="14"/><text class="t" x="1712" y="1444">GDB</text></g>
<g id="n-GG"><ellipse class="n" cx="2024" cy="1440" rx="13" ry="13"/><text class="t" x="2024" y="1444">GG</text></g>
<g id="n-PT"><ellipse class="n" cx="2180" cy="1440" rx="13" ry="13"/><text class="t" x="2180" y="1444">PT</text></g>
<g id="n-YJ-2"><ellipse class="n" cx="1919" cy="1479" rx="13" ry="13"/><text class="t" x="1919" y="1483">YJ</text></g>
<g id="n-JX"><ellipse class="n" cx="1362" cy="1648" rx="13" ry="13"/><text class="t" x="1362" y="1652">JX</text></g>
<g id="n-XSH"><ellipse class="n" cx="1556" cy="1648" rx="16" ry="14"/><text class="t" x="1556" y="1652">XSH</text></g>
<g id="n-GS"><ellipse class="n" cx="1712" cy="1648" rx="13" ry="13"/><text class="t" x="1712" y="1652">GS</text></g>
<g id="n-ST"><ellipse class="n" cx="2180" cy="1648" rx="13" ry="13"/><text class="t" x="2180" y="1652">ST</text></g>
<g id="n-XS"><ellipse class="n" cx="2333" cy="1648" rx="13" ry="13"/><text class="t" x="2333" y="1652">XS</text></g>
<g id="n-QR-2"><ellipse class="n" cx="2476" cy="1648" rx="13" ry="13"/><text class="t" x="2476" y="1652">QR</text></g>
<g id="n-TJZ"><ellipse class="n" cx="1362" cy="1774" rx="14" ry="13"/><text class="t" x="1362" y="1778">TJZ</text></g>
<g id="n-YFW"><ellipse class="n" cx="1556" cy="1856" rx="16" ry="15"/><text class="t" x="1556" y="1860">YFW</text></g>
<g id="n-FHS"><ellipse class="n" cx="1712" cy="1856" rx="15" ry="14"/><text class="t" x="1712" y="1860">FHS</text></g>
<g id="n-XN"><ellipse class="n" cx="1362" cy="2084" rx="13" ry="13"/><text class="t" x="1362" y="2088">XN</text></g>
<g id="n-WZY"><ellipse class="n" cx="1549" cy="2084" rx="16" ry="14"/><text class="t" x="1549" y="2088">WZY</text></g>
<g id="n-WT"><ellipse class="n" cx="1362" cy="2232" rx="13" ry="13"/><text class="t" x="1362" y="2236">WT</text></g>
<g id="n-LM"><ellipse class="n" cx="1549" cy="2232" rx="14" ry="13"/><text class="t" x="1549" y="2236">LM</text></g>
<g id="black-start"><circle cx="2408" cy="647" r="44" fill="#f00" stroke="#000" stroke-width="1"/></g>
<g id="annotation">
<text class="big" x="2455" y="143">Black</text>
<text class="big" x="2455" y="220">start</text>
<text class="big" x="2455" y="297">power</text>
<polygon points="2531,345 2580,357 2553,499 2569,502 2495,596 2474,478 2504,482" fill="#000"/>
</g>
<g id="legend">
<rect x="1994" y="1787" width="90" height="91" fill="#fff" stroke="#000" stroke-width="1.3"/>
<line x1="1994" y1="1816" x2="2084" y2="1816"/><line x1="1994" y1="1856" x2="2084" y2="1856"/>
<text class="big" x="2298" y="1840">Generation</text>
<text class="big" x="2300" y="1915">node</text>
<circle cx="2037" cy="1981" r="44" fill="#fff" stroke="#000" stroke-width="1.1"/>
<text class="big" x="2353" y="2005">Load node</text>
<circle cx="2038" cy="2123" r="44" fill="#f00"/>
<text class="big" x="2353" y="2105">Black start</text>
<text class="big" x="2353" y="2180">power</text>
</g>
</svg>
